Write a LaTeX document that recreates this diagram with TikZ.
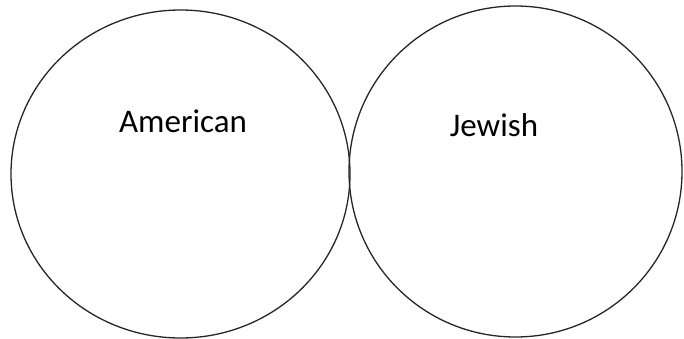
\documentclass[tikz,border=0pt]{standalone}
\usepackage{fontspec}
\setmainfont{Carlito}
\begin{document}
\begin{tikzpicture}[x=1pt,y=-1pt,
  ring/.style={draw=black!85, line width=1.3pt},
  lbl/.style={font=\fontsize{33}{40}\selectfont, inner sep=0pt}]
\useasboundingbox (0,0) rectangle (684,339);
\draw[ring] (180.5,174) ellipse [x radius=169.5, y radius=164];
\draw[ring] (515.5,171.5) ellipse [x radius=166.5, y radius=165.5];
\node[lbl] (american) at (183,121) {American};
\node[lbl] (jewish) at (494,125) {Jewish};
\end{tikzpicture}
\end{document}
